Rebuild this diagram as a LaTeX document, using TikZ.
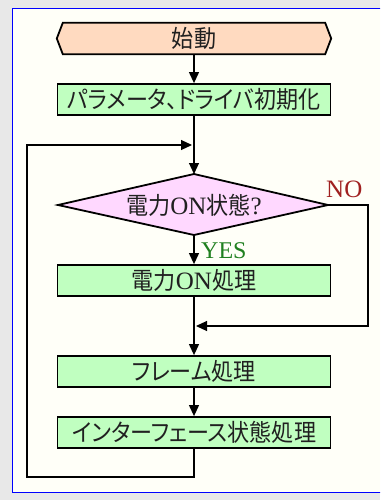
\documentclass[tikz,border=0pt]{standalone}
\usepackage{fontspec}
\setmainfont{Liberation Serif}
\newfontfamily\jp[RawFeature=+palt, FakeStretch=0.92]{Noto Sans CJK JP}
\usetikzlibrary{arrows.meta,calc}
\definecolor{bggray}{HTML}{E8E8E8}
\definecolor{panel}{HTML}{FFFFF8}
\definecolor{peach}{HTML}{FFDAC0}
\definecolor{procgreen}{HTML}{C0FFC0}
\definecolor{lavender}{HTML}{FFD8FF}
\definecolor{nored}{HTML}{A02020}
\definecolor{yesgreen}{HTML}{208020}
\definecolor{txt}{HTML}{202020}
\newcommand{\lat}[1]{{\fontspec{Liberation Serif}\fontsize{25}{25}\selectfont #1}}
\tikzset{
  proc/.style={draw, line width=1.8pt, fill=procgreen, minimum width=273pt, minimum height=31pt, inner sep=0pt, text=txt, font=\jp\fontsize{24}{24}\selectfont},
  plain/.style={inner sep=0pt, text=txt, font=\jp\fontsize{24}{24}\selectfont},
  conn/.style={line width=1.1pt, draw=black},
  arr/.style={conn, -{Triangle[length=11pt,width=10pt]}},
  shapeline/.style={line width=1.8pt, draw=black}
}
\begin{document}
\begin{tikzpicture}[x=1pt,y=-1pt]
\useasboundingbox (0,0) rectangle (380,500);
\clip (0,0) rectangle (380,500);
\fill[bggray] (0,0) rectangle (380,500);
\draw[blue, line width=1pt, fill=panel] (12,9) rectangle (390,492);

% start
\node[plain, minimum width=274pt, minimum height=31pt] (start) at (194,38.5) {};
\filldraw[shapeline, fill=peach] (start.west) -- ($(start.north west)+(6,0)$) -- ($(start.north east)+(-6,0)$) -- (start.east) -- ($(start.south east)+(-6,0)$) -- ($(start.south west)+(6,0)$) -- cycle;
\node[plain] (starttext) at (start.center) {始動};

% init
\node[proc] (init) at (194,99.5) {パラメータ、ドライバ初期化};

% decision
\coordinate (dleft) at (58,205);
\coordinate (dtop) at (194,174);
\coordinate (dright) at (328,205);
\coordinate (dbot) at (194,235);
\filldraw[shapeline, fill=lavender] (dleft) -- (dtop) -- (dright) -- (dbot) -- cycle;
\node[plain] (dec) at (194,205) {電力\lat{ON}状態\lat{?}};

% processes
\node[proc] (on) at (194,280.5) {電力\lat{ON}処理};
\node[proc] (frame) at (194,371.5) {フレーム処理};
\node[proc] (iface) at (194,432.5) {インターフェース状態処理};

% connectors
\coordinate (mergeLoop) at (192,145);
\coordinate (mergeNo) at (196,326);
\coordinate (loopBL) at (27,477);
\coordinate (noTR) at (368,205);

\draw[arr] (start.south) -- (init.north);
\draw[arr] (init.south) -- (dtop);
\draw[arr] (dbot) -- (on.north);
\draw[arr] (on.south) -- (frame.north);
\draw[arr] (frame.south) -- (iface.north);
\draw[arr] (dright) -- (noTR) |- (mergeNo);
\draw[arr] (iface.south) |- (loopBL) |- (mergeLoop);

% labels
\node[anchor=base west, inner sep=0pt, text=nored, font=\fontsize{25}{25}\selectfont] (nolbl) at (326,197) {NO};
\node[anchor=base west, inner sep=0pt, text=yesgreen, font=\fontsize{24}{24}\selectfont] (yeslbl) at (201,258) {YES};
\end{tikzpicture}
\end{document}
